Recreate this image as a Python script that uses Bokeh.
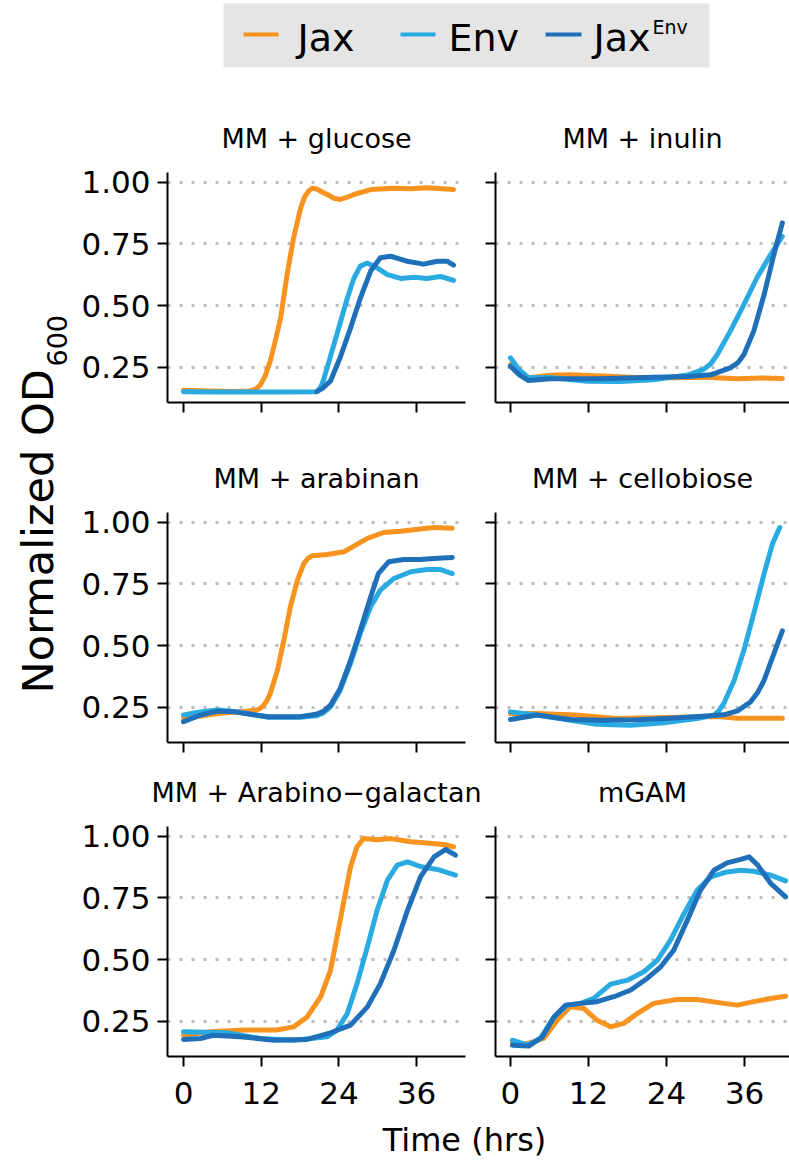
import math
from bokeh.plotting import figure
from bokeh.models import Range1d, FixedTicker, PrintfTickFormatter
from bokeh.layouts import column, row
from bokeh.embed import file_html
from bokeh.resources import INLINE
from bokeh.core.properties import value

FONT = "DejaVu Sans"
STRAINS = ["Jax", "Env", "JaxEnv"]
COLORS = {"Jax": "#F7931E", "Env": "#29ABE2", "JaxEnv": "#1F70B8"}
TITLES = ["MM + glucose", "MM + inulin", "MM + arabinan", "MM + cellobiose",
          "MM + Arabino\u2212galactan", "mGAM"]
X_TICKS = [0, 12, 24, 36]
Y_TICKS = [0.25, 0.50, 0.75, 1.00]

# ---- data (time in hrs, normalized OD600) ----
glucose_jax_t = [0, 4, 8, 10.3, 11.2, 11.9, 12.6, 13.4, 14.2, 15.0, 16.0, 17.0, 18.1, 18.7, 19.3, 19.9, 20.6, 21.4, 22.2, 23.2, 24.2, 25.2, 26.3, 28.9, 32.5, 35.1, 37.6, 41.7]
glucose_jax_od = [0.158, 0.155, 0.153, 0.155, 0.163, 0.18, 0.215, 0.275, 0.36, 0.45, 0.627, 0.775, 0.896, 0.94, 0.964, 0.975, 0.972, 0.96, 0.95, 0.935, 0.93, 0.938, 0.95, 0.97, 0.975, 0.973, 0.977, 0.97]
glucose_env_t = [0, 5, 10, 15, 20.6, 21.2, 21.7, 22.2, 23.7, 25.3, 26.3, 27.3, 28.4, 29.9, 31.5, 33.5, 35.6, 37.6, 39.7, 41.7]
glucose_env_od = [0.152, 0.151, 0.150, 0.150, 0.152, 0.17, 0.205, 0.25, 0.385, 0.53, 0.61, 0.66, 0.673, 0.653, 0.626, 0.61, 0.615, 0.61, 0.618, 0.602]
glucose_jaxenv_t = [20.6, 21.6, 22.7, 24.2, 25.8, 27.3, 28.9, 30.4, 32.0, 34.5, 37.1, 39.2, 40.7, 41.7]
glucose_jaxenv_od = [0.152, 0.168, 0.195, 0.29, 0.41, 0.53, 0.64, 0.694, 0.70, 0.68, 0.668, 0.68, 0.68, 0.664]

inulin_jax_t = [0, 2.8, 6.1, 9.2, 15, 20, 25, 30, 34.9, 38.5, 41.8]
inulin_jax_od = [0.26, 0.208, 0.218, 0.22, 0.214, 0.208, 0.208, 0.21, 0.204, 0.207, 0.205]
inulin_env_t = [0, 1.3, 2.8, 6.1, 11.8, 16.9, 22.0, 27.2, 29.7, 30.8, 31.8, 33.8, 35.9, 37.9, 40.0, 41.8]
inulin_env_od = [0.289, 0.242, 0.208, 0.209, 0.194, 0.193, 0.2, 0.219, 0.242, 0.265, 0.302, 0.397, 0.505, 0.613, 0.707, 0.78]
inulin_jaxenv_t = [0, 1.3, 2.8, 6.1, 13.8, 22.0, 27.2, 30.8, 33.8, 35.0, 35.9, 37.4, 39.0, 40.5, 41.8]
inulin_jaxenv_od = [0.255, 0.221, 0.197, 0.204, 0.204, 0.21, 0.213, 0.22, 0.248, 0.27, 0.302, 0.397, 0.545, 0.707, 0.835]

arabinan_jax_t = [0, 2.6, 5.3, 8.8, 11.4, 11.9, 12.4, 12.9, 13.4, 14.5, 15.5, 16.5, 17.6, 18.6, 19.2, 19.9, 22.2, 24.8, 26.3, 28.4, 30.9, 33.5, 36.6, 38.6, 41.5]
arabinan_jax_od = [0.205, 0.215, 0.225, 0.232, 0.24, 0.247, 0.259, 0.278, 0.306, 0.40, 0.522, 0.657, 0.765, 0.833, 0.853, 0.864, 0.869, 0.88, 0.903, 0.934, 0.958, 0.963, 0.972, 0.978, 0.975]
arabinan_env_t = [0, 2.6, 5.3, 7.9, 11.0, 13.1, 18.0, 20.5, 21.6, 22.7, 24.2, 25.8, 27.3, 28.9, 30.4, 32.5, 35.1, 37.6, 39.7, 41.5]
arabinan_env_od = [0.219, 0.232, 0.24, 0.234, 0.22, 0.21, 0.21, 0.216, 0.228, 0.252, 0.32, 0.428, 0.549, 0.657, 0.725, 0.772, 0.799, 0.808, 0.808, 0.792]
arabinan_jaxenv_t = [0, 2.6, 5.3, 7.9, 11.0, 13.1, 18.0, 20.5, 21.6, 22.7, 24.2, 25.8, 27.3, 28.9, 30.1, 31.7, 34.0, 36.6, 38.6, 41.5]
arabinan_jaxenv_od = [0.192, 0.219, 0.235, 0.232, 0.219, 0.212, 0.212, 0.222, 0.234, 0.259, 0.327, 0.44, 0.562, 0.697, 0.792, 0.84, 0.849, 0.849, 0.853, 0.857]

cellobiose_jax_t = [0, 4.1, 10.0, 16.2, 24.0, 31.7, 34.9, 41.8]
cellobiose_jax_od = [0.225, 0.225, 0.219, 0.205, 0.209, 0.213, 0.206, 0.206]
cellobiose_env_t = [0, 4.1, 9.2, 13.3, 18.5, 23.6, 28.7, 31.3, 32.0, 32.8, 34.4, 35.9, 37.4, 39.0, 40.3, 41.4]
cellobiose_env_od = [0.232, 0.219, 0.198, 0.182, 0.178, 0.188, 0.205, 0.219, 0.235, 0.266, 0.36, 0.482, 0.63, 0.792, 0.914, 0.978]
cellobiose_jaxenv_t = [0, 4.1, 9.2, 14.4, 19.5, 24.6, 29.0, 32.8, 34.9, 36.9, 38.0, 39.0, 40.5, 41.8]
cellobiose_jaxenv_od = [0.201, 0.219, 0.201, 0.198, 0.2, 0.206, 0.213, 0.22, 0.236, 0.272, 0.31, 0.36, 0.468, 0.56]

galactan_jax_t = [0, 4.1, 9.3, 14.4, 17.0, 19.1, 21.2, 22.7, 23.7, 24.8, 25.8, 26.8, 27.8, 29.9, 32.0, 35.1, 37.6, 40.2, 41.7]
galactan_jax_od = [0.194, 0.208, 0.215, 0.215, 0.228, 0.268, 0.35, 0.457, 0.592, 0.741, 0.876, 0.957, 0.99, 0.985, 0.99, 0.977, 0.972, 0.966, 0.957]
galactan_env_t = [0, 6.7, 11.9, 17.0, 22.2, 23.7, 25.3, 26.8, 28.4, 29.9, 31.5, 33.0, 34.6, 36.7, 39.2, 42.0]
galactan_env_od = [0.208, 0.204, 0.181, 0.174, 0.188, 0.215, 0.282, 0.403, 0.552, 0.70, 0.822, 0.883, 0.896, 0.876, 0.865, 0.842]
galactan_jaxenv_t = [0, 2.6, 4.6, 8.8, 14.0, 19.1, 22.7, 25.8, 28.4, 30.4, 32.5, 34.6, 36.6, 38.7, 40.5, 42.0]
galactan_jaxenv_od = [0.177, 0.181, 0.194, 0.188, 0.174, 0.177, 0.204, 0.235, 0.309, 0.403, 0.538, 0.70, 0.835, 0.916, 0.946, 0.923]

mgam_jax_t = [0.3, 2.6, 5.1, 7.2, 9.2, 11.3, 13.3, 15.4, 17.4, 19.5, 22.0, 25.6, 28.7, 32.3, 34.9, 37.4, 40.0, 42.3]
mgam_jax_od = [0.163, 0.16, 0.181, 0.255, 0.309, 0.302, 0.255, 0.228, 0.242, 0.282, 0.323, 0.339, 0.339, 0.325, 0.316, 0.33, 0.343, 0.352]
mgam_env_t = [0.3, 2.6, 4.6, 6.7, 8.7, 10.8, 12.8, 15.4, 18.0, 20.5, 22.6, 24.6, 26.7, 28.7, 30.8, 33.3, 35.4, 37.4, 40.0, 42.3]
mgam_env_od = [0.174, 0.154, 0.181, 0.268, 0.316, 0.323, 0.343, 0.401, 0.417, 0.451, 0.498, 0.579, 0.687, 0.781, 0.835, 0.855, 0.862, 0.858, 0.842, 0.819]
mgam_jaxenv_t = [0.3, 2.8, 4.9, 6.7, 8.5, 10.8, 13.3, 15.9, 18.5, 21.0, 23.1, 25.1, 27.2, 29.2, 31.3, 33.3, 35.4, 36.7, 38.0, 40.0, 42.3]
mgam_jaxenv_od = [0.154, 0.15, 0.187, 0.268, 0.316, 0.323, 0.33, 0.35, 0.377, 0.424, 0.471, 0.538, 0.66, 0.781, 0.862, 0.892, 0.906, 0.916, 0.883, 0.809, 0.754]

PANELS = [
    {"Jax": (glucose_jax_t, glucose_jax_od), "Env": (glucose_env_t, glucose_env_od), "JaxEnv": (glucose_jaxenv_t, glucose_jaxenv_od)},
    {"Jax": (inulin_jax_t, inulin_jax_od), "Env": (inulin_env_t, inulin_env_od), "JaxEnv": (inulin_jaxenv_t, inulin_jaxenv_od)},
    {"Jax": (arabinan_jax_t, arabinan_jax_od), "Env": (arabinan_env_t, arabinan_env_od), "JaxEnv": (arabinan_jaxenv_t, arabinan_jaxenv_od)},
    {"Jax": (cellobiose_jax_t, cellobiose_jax_od), "Env": (cellobiose_env_t, cellobiose_env_od), "JaxEnv": (cellobiose_jaxenv_t, cellobiose_jaxenv_od)},
    {"Jax": (galactan_jax_t, galactan_jax_od), "Env": (galactan_env_t, galactan_env_od), "JaxEnv": (galactan_jaxenv_t, galactan_jaxenv_od)},
    {"Jax": (mgam_jax_t, mgam_jax_od), "Env": (mgam_env_t, mgam_env_od), "JaxEnv": (mgam_jaxenv_t, mgam_jaxenv_od)},
]

# ---- layout geometry (pixels) ----
YLAB_W = 76
ROW_H = [340, 314, 366]
BORDER_TOP = [72, 72, 72]
BORDER_BOTTOM = [38, 12, 64]
COL_W = [406, 307]
BORDER_LEFT = [91, 13]
BORDER_RIGHT = [17, 0]
X_RANGES = [(-2.47, 43.55), (-2.3, 42.9)]
Y_RANGE = (0.108, 1.039)
TOP = 100
XLAB_H = 1161 - TOP - sum(ROW_H)


def blank(width, height, xr, yr):
    f = figure(width=width, height=height, x_range=Range1d(*xr), y_range=Range1d(*yr),
               output_backend="svg", toolbar_location=None, min_border=0,
               min_border_left=0, min_border_right=0, min_border_top=0, min_border_bottom=0)
    f.axis.visible = False
    f.grid.visible = False
    f.outline_line_color = None
    return f


def hide_labels(ax, ticks):
    ax.major_label_overrides = {t: "" for t in ticks}
    ax.major_label_text_font_size = "1px"
    ax.major_label_standoff = 0


def panel(i):
    r, c = divmod(i, 2)
    p = figure(width=COL_W[c], height=ROW_H[r], x_range=Range1d(*X_RANGES[c]),
               y_range=Range1d(*Y_RANGE), output_backend="svg", toolbar_location=None,
               min_border_left=BORDER_LEFT[c], min_border_right=BORDER_RIGHT[c],
               min_border_top=BORDER_TOP[r], min_border_bottom=BORDER_BOTTOM[r])
    p.title.text = TITLES[i]
    p.title.text_font = FONT
    p.title.text_font_size = "27px"
    p.title.text_font_style = "normal"
    p.title.text_color = "black"
    p.title.align = "center"
    p.title.standoff = 38
    p.outline_line_color = None
    p.xgrid.visible = False
    p.ygrid.ticker = FixedTicker(ticks=Y_TICKS)
    p.ygrid.grid_line_color = "#BDBDBD"
    p.ygrid.grid_line_dash = "3 9"
    p.ygrid.grid_line_width = 3
    p.xaxis.ticker = FixedTicker(ticks=X_TICKS)
    p.yaxis.ticker = FixedTicker(ticks=Y_TICKS)
    p.yaxis.formatter = PrintfTickFormatter(format="%.2f")
    for ax in (p.xaxis, p.yaxis):
        ax.axis_line_width = 2
        ax.axis_line_color = "black"
        ax.major_tick_line_width = 2
        ax.major_tick_line_color = "black"
        ax.major_tick_out = 10
        ax.major_tick_in = 0
        ax.minor_tick_line_color = None
        ax.major_label_text_font = FONT
        ax.major_label_text_font_size = "31px"
        ax.major_label_text_color = "black"
    p.yaxis.major_label_standoff = 7
    p.xaxis.major_label_standoff = 15
    if c == 1:
        hide_labels(p.yaxis[0], Y_TICKS)
    if r < 2:
        hide_labels(p.xaxis[0], X_TICKS)
    data = PANELS[i]
    for s in STRAINS:
        t, od = data[s]
        p.line(t, od, line_color=COLORS[s], line_width=5, line_join="round", line_cap="round")
    return p


panels = [panel(i) for i in range(6)]

# header with legend
header = blank(789, TOP, (0, 789), (TOP, 0))
header.quad(left=[223], right=[709], top=[3], bottom=[67], fill_color="#E5E5E5", line_color=None)
header.segment(x0=[243, 400, 545], y0=[34, 34, 34], x1=[278, 435, 581], y1=[34, 34, 34],
               line_color=[COLORS[s] for s in STRAINS], line_width=4)
header.text(x=[297, 448, 593], y=[37, 37, 37], text=["Jax", "Env", "Jax"],
            text_font=value(FONT), text_font_size="38px", text_align="left",
            text_baseline="middle", text_color="black")
header.text(x=[652], y=[26.5], text=["Env"], text_font=value(FONT), text_font_size="19px",
            text_align="left", text_baseline="middle", text_color="black")

# y-axis label
ylab = blank(YLAB_W, 1161 - TOP, (0, YLAB_W), (1161, TOP))
ylab.text(x=[37], y=[693], text=["Normalized OD"], angle=math.pi / 2,
          text_font=value(FONT), text_font_size="43px", text_align="left",
          text_baseline="middle", text_color="black")
ylab.text(x=[56], y=[366], text=["600"], angle=math.pi / 2,
          text_font=value(FONT), text_font_size="27px", text_align="left",
          text_baseline="middle", text_color="black")

# x-axis label
xlab = blank(789 - YLAB_W, XLAB_H, (YLAB_W, 789), (1161, 1161 - XLAB_H))
xlab.text(x=[464], y=[1139], text=["Time (hrs)"], text_font=value(FONT),
          text_font_size="32px", text_align="center", text_baseline="middle", text_color="black")

grid = column(row(panels[0], panels[1]), row(panels[2], panels[3]),
              row(panels[4], panels[5]), xlab)
layout = column(header, row(ylab, grid))

open("out.html", "w").write(file_html(layout, INLINE))
